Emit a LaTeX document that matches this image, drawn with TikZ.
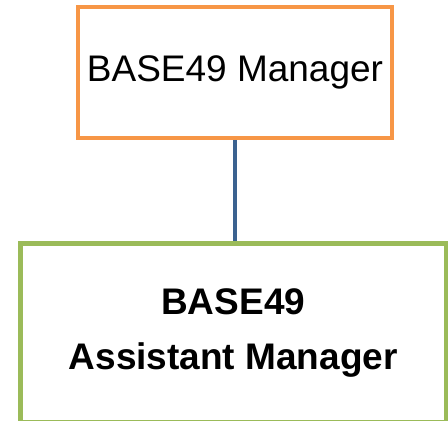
\documentclass[tikz,border=0pt]{standalone}
\usepackage{fontspec}
\setmainfont{Liberation Sans}
\usetikzlibrary{positioning}
\definecolor{mgrorange}{HTML}{F79646}
\definecolor{asstgreen}{HTML}{9BBB59}
\definecolor{linkblue}{HTML}{3B6290}
\tikzstyle{link} = [line width=4.5pt,linkblue]
\tikzstyle{mgrbox}=[draw=mgrorange, line width=4.5pt, rectangle, minimum width=314pt, minimum height=131pt, inner sep=0pt, align=center, font=\fontsize{37}{55}\selectfont]
\tikzstyle{asstbox}=[draw=asstgreen, line width=5pt, rectangle, minimum width=426.5pt, minimum height=179pt, inner sep=0pt, align=center, font=\fontsize{37}{55}\selectfont\bfseries]

\begin{document}
\begin{tikzpicture}[x=1pt,y=-1pt]
        \useasboundingbox (0,0) rectangle (448,421);
        \node (mgr) [mgrbox] at (235,72.5) {BASE49 Manager};
        \node (asst) [asstbox] at (233.25,333) {BASE49\\Assistant Manager};
        \draw [link] (mgr.south) -- (mgr.south |- asst.north);
      \end{tikzpicture}
\end{document}
